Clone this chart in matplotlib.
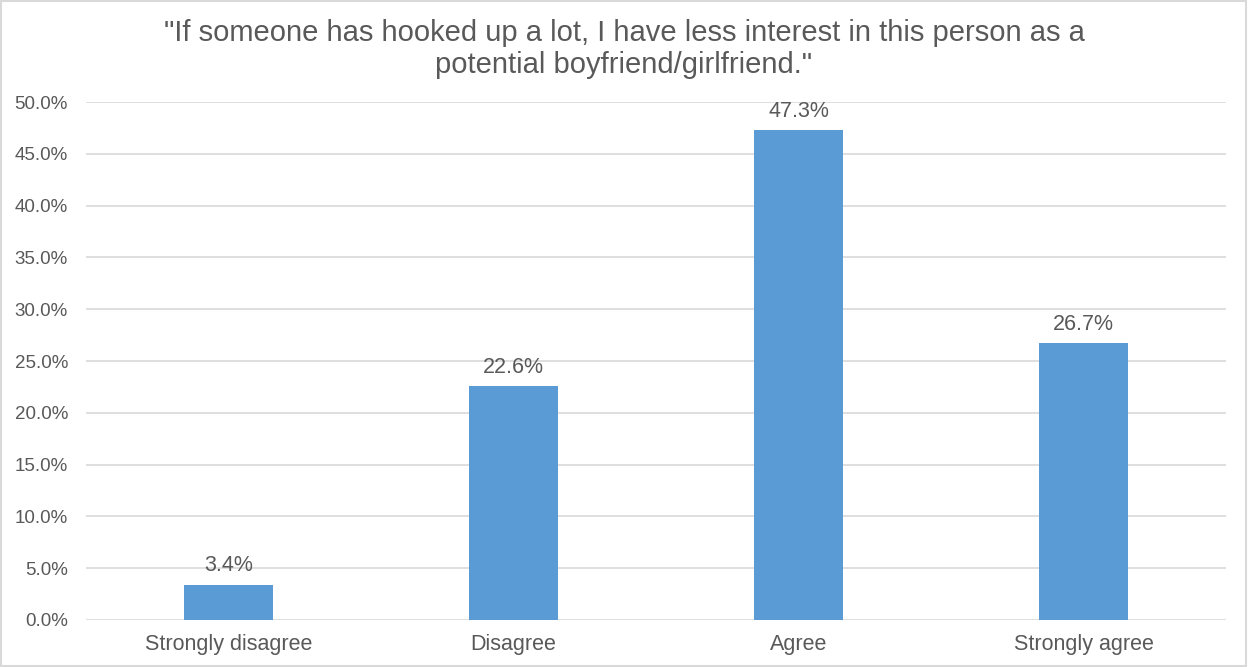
import matplotlib.pyplot as plt
from matplotlib.patches import Rectangle
from matplotlib.ticker import FuncFormatter

# Survey responses
categories = ["Strongly disagree", "Disagree", "Agree", "Strongly agree"]
percents = [3.4, 22.6, 47.3, 26.7]

title = '"If someone has hooked up a lot, I have less interest in this person as a\npotential boyfriend/girlfriend."'

plt.rcParams['font.family'] = ['Liberation Sans', 'DejaVu Sans']
text_color = '#595959'
bar_color = '#5b9bd5'

fig = plt.figure(figsize=(12.48, 6.67), dpi=100)
ax = fig.add_axes([0.069, 0.0705, 0.9134, 0.7765])

x = range(len(categories))
bars = ax.bar(x, percents, width=0.315, color=bar_color, zorder=3)

for b, v in zip(bars, percents):
    ax.text(b.get_x() + b.get_width() / 2, v + 0.8, f"{v:.1f}%",
            ha='center', va='bottom', fontsize=15.5, color=text_color)

ax.set_xlim(-0.5, 3.5)
ax.set_ylim(0, 50)
ax.set_yticks([i * 5 for i in range(11)])
ax.yaxis.set_major_formatter(FuncFormatter(lambda v, p: f"{v:.1f}%"))
ax.set_xticks(list(x))
ax.set_xticklabels(categories, fontsize=15.5, color=text_color)
ax.tick_params(axis='y', labelsize=13.5, labelcolor=text_color, length=0, pad=13)
ax.tick_params(axis='x', length=0, pad=10)
ax.grid(axis='y', color='#d9d9d9', linewidth=1.2, zorder=0)
for s in ax.spines.values():
    s.set_visible(False)

fig.text(0.5, 0.972, title, ha='center', va='top', fontsize=21,
         color=text_color, linespacing=1.2)

# outer chart frame
fig.patches.append(Rectangle((0.001, 0.001), 0.997, 0.997, transform=fig.transFigure,
                             fill=False, edgecolor='#d9d9d9', linewidth=1.5))

fig.savefig('out.png', dpi=100)
